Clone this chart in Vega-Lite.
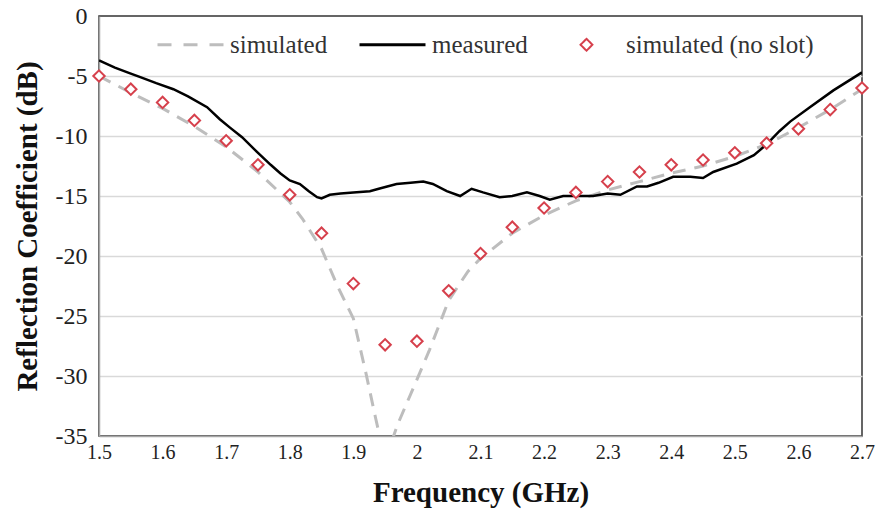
{
  "$schema": "https://vega.github.io/schema/vega-lite/v6.json",
  "width": 763,
  "height": 420,
  "autosize": {"type": "none"},
  "padding": {"left": 99, "top": 16, "right": 16, "bottom": 80},
  "background": "white",
  "config": {
    "font": "Liberation Serif, Times New Roman, serif",
    "view": {"stroke": "#333333", "strokeWidth": 1.5}
  },
  "datasets": {
    "lines": [
      {"freq": 1.5, "db": -5.0, "series": "simulated"},
      {"freq": 1.55, "db": -6.4, "series": "simulated"},
      {"freq": 1.6, "db": -7.7, "series": "simulated"},
      {"freq": 1.65, "db": -9.2, "series": "simulated"},
      {"freq": 1.7, "db": -10.9, "series": "simulated"},
      {"freq": 1.75, "db": -13.0, "series": "simulated"},
      {"freq": 1.8, "db": -15.5, "series": "simulated"},
      {"freq": 1.82, "db": -16.9, "series": "simulated"},
      {"freq": 1.85, "db": -19.4, "series": "simulated"},
      {"freq": 1.875, "db": -22.5, "series": "simulated"},
      {"freq": 1.9, "db": -25.2, "series": "simulated"},
      {"freq": 1.92, "db": -29.8, "series": "simulated"},
      {"freq": 1.935, "db": -33.5, "series": "simulated"},
      {"freq": 1.95, "db": -37.0, "series": "simulated"},
      {"freq": 1.97, "db": -34.0, "series": "simulated"},
      {"freq": 2.0, "db": -30.3, "series": "simulated"},
      {"freq": 2.02, "db": -27.8, "series": "simulated"},
      {"freq": 2.05, "db": -23.7, "series": "simulated"},
      {"freq": 2.08, "db": -21.3, "series": "simulated"},
      {"freq": 2.1, "db": -20.2, "series": "simulated"},
      {"freq": 2.15, "db": -18.1, "series": "simulated"},
      {"freq": 2.2, "db": -16.6, "series": "simulated"},
      {"freq": 2.25, "db": -15.4, "series": "simulated"},
      {"freq": 2.3, "db": -14.5, "series": "simulated"},
      {"freq": 2.35, "db": -13.8, "series": "simulated"},
      {"freq": 2.4, "db": -13.1, "series": "simulated"},
      {"freq": 2.45, "db": -12.5, "series": "simulated"},
      {"freq": 2.5, "db": -11.7, "series": "simulated"},
      {"freq": 2.55, "db": -10.7, "series": "simulated"},
      {"freq": 2.6, "db": -9.3, "series": "simulated"},
      {"freq": 2.65, "db": -7.8, "series": "simulated"},
      {"freq": 2.7, "db": -6.1, "series": "simulated"},
      {"freq": 1.5, "db": -3.7, "series": "measured"},
      {"freq": 1.525, "db": -4.3, "series": "measured"},
      {"freq": 1.55, "db": -4.8, "series": "measured"},
      {"freq": 1.565, "db": -5.1, "series": "measured"},
      {"freq": 1.59, "db": -5.6, "series": "measured"},
      {"freq": 1.617, "db": -6.1, "series": "measured"},
      {"freq": 1.64, "db": -6.7, "series": "measured"},
      {"freq": 1.67, "db": -7.6, "series": "measured"},
      {"freq": 1.69, "db": -8.6, "series": "measured"},
      {"freq": 1.706, "db": -9.3, "series": "measured"},
      {"freq": 1.725, "db": -10.1, "series": "measured"},
      {"freq": 1.748, "db": -11.3, "series": "measured"},
      {"freq": 1.77, "db": -12.4, "series": "measured"},
      {"freq": 1.785, "db": -13.1, "series": "measured"},
      {"freq": 1.8, "db": -13.7, "series": "measured"},
      {"freq": 1.816, "db": -14.0, "series": "measured"},
      {"freq": 1.83, "db": -14.6, "series": "measured"},
      {"freq": 1.843, "db": -15.1, "series": "measured"},
      {"freq": 1.85, "db": -15.2, "series": "measured"},
      {"freq": 1.863, "db": -14.9, "series": "measured"},
      {"freq": 1.88, "db": -14.8, "series": "measured"},
      {"freq": 1.9, "db": -14.7, "series": "measured"},
      {"freq": 1.926, "db": -14.6, "series": "measured"},
      {"freq": 1.94, "db": -14.4, "series": "measured"},
      {"freq": 1.968, "db": -14.0, "series": "measured"},
      {"freq": 1.99, "db": -13.9, "series": "measured"},
      {"freq": 2.01, "db": -13.8, "series": "measured"},
      {"freq": 2.025, "db": -14.0, "series": "measured"},
      {"freq": 2.047, "db": -14.6, "series": "measured"},
      {"freq": 2.068, "db": -15.0, "series": "measured"},
      {"freq": 2.086, "db": -14.4, "series": "measured"},
      {"freq": 2.104, "db": -14.7, "series": "measured"},
      {"freq": 2.13, "db": -15.1, "series": "measured"},
      {"freq": 2.15, "db": -15.0, "series": "measured"},
      {"freq": 2.173, "db": -14.7, "series": "measured"},
      {"freq": 2.193, "db": -15.0, "series": "measured"},
      {"freq": 2.209, "db": -15.3, "series": "measured"},
      {"freq": 2.23, "db": -15.0, "series": "measured"},
      {"freq": 2.25, "db": -15.0, "series": "measured"},
      {"freq": 2.277, "db": -15.0, "series": "measured"},
      {"freq": 2.3, "db": -14.8, "series": "measured"},
      {"freq": 2.32, "db": -14.9, "series": "measured"},
      {"freq": 2.346, "db": -14.2, "series": "measured"},
      {"freq": 2.362, "db": -14.2, "series": "measured"},
      {"freq": 2.38, "db": -13.9, "series": "measured"},
      {"freq": 2.403, "db": -13.4, "series": "measured"},
      {"freq": 2.43, "db": -13.4, "series": "measured"},
      {"freq": 2.45, "db": -13.5, "series": "measured"},
      {"freq": 2.466, "db": -13.0, "series": "measured"},
      {"freq": 2.503, "db": -12.3, "series": "measured"},
      {"freq": 2.53, "db": -11.6, "series": "measured"},
      {"freq": 2.55, "db": -10.7, "series": "measured"},
      {"freq": 2.57, "db": -9.6, "series": "measured"},
      {"freq": 2.587, "db": -8.8, "series": "measured"},
      {"freq": 2.618, "db": -7.6, "series": "measured"},
      {"freq": 2.655, "db": -6.2, "series": "measured"},
      {"freq": 2.7, "db": -4.7, "series": "measured"}
    ],
    "noslot": [
      {"freq": 1.5, "db": -5.0, "series": "simulated (no slot)"},
      {"freq": 1.55, "db": -6.1, "series": "simulated (no slot)"},
      {"freq": 1.6, "db": -7.2, "series": "simulated (no slot)"},
      {"freq": 1.65, "db": -8.7, "series": "simulated (no slot)"},
      {"freq": 1.7, "db": -10.4, "series": "simulated (no slot)"},
      {"freq": 1.75, "db": -12.4, "series": "simulated (no slot)"},
      {"freq": 1.8, "db": -14.9, "series": "simulated (no slot)"},
      {"freq": 1.85, "db": -18.1, "series": "simulated (no slot)"},
      {"freq": 1.9, "db": -22.3, "series": "simulated (no slot)"},
      {"freq": 1.95, "db": -27.4, "series": "simulated (no slot)"},
      {"freq": 2.0, "db": -27.1, "series": "simulated (no slot)"},
      {"freq": 2.05, "db": -22.9, "series": "simulated (no slot)"},
      {"freq": 2.1, "db": -19.8, "series": "simulated (no slot)"},
      {"freq": 2.15, "db": -17.6, "series": "simulated (no slot)"},
      {"freq": 2.2, "db": -16.0, "series": "simulated (no slot)"},
      {"freq": 2.25, "db": -14.7, "series": "simulated (no slot)"},
      {"freq": 2.3, "db": -13.8, "series": "simulated (no slot)"},
      {"freq": 2.35, "db": -13.0, "series": "simulated (no slot)"},
      {"freq": 2.4, "db": -12.4, "series": "simulated (no slot)"},
      {"freq": 2.45, "db": -12.0, "series": "simulated (no slot)"},
      {"freq": 2.5, "db": -11.4, "series": "simulated (no slot)"},
      {"freq": 2.55, "db": -10.6, "series": "simulated (no slot)"},
      {"freq": 2.6, "db": -9.4, "series": "simulated (no slot)"},
      {"freq": 2.65, "db": -7.8, "series": "simulated (no slot)"},
      {"freq": 2.7, "db": -6.0, "series": "simulated (no slot)"}
    ]
  },
  "encoding": {
    "x": {
      "field": "freq",
      "type": "quantitative",
      "scale": {"domain": [1.5, 2.7], "nice": false, "zero": false},
      "axis": {
        "title": "Frequency (GHz)",
        "titleFontSize": 29,
        "titleFontWeight": "bold",
        "titleColor": "#111111",
        "titlePadding": 16,
        "values": [1.5, 1.6, 1.7, 1.8, 1.9, 2.0, 2.1, 2.2, 2.3, 2.4, 2.5, 2.6, 2.7],
        "format": ".1~f",
        "labelFontSize": 20,
        "labelColor": "#222222",
        "labelPadding": 6,
        "labelFlush": false,
        "labelOverlap": false,
        "ticks": false,
        "grid": false,
        "domainColor": "#a6a6a6",
        "domainWidth": 1.5
      }
    },
    "y": {
      "field": "db",
      "type": "quantitative",
      "scale": {"domain": [-35, 0], "nice": false, "zero": false},
      "axis": {
        "title": "Reflection Coefficient (dB)",
        "titleFontSize": 29,
        "titleFontWeight": "bold",
        "titleColor": "#111111",
        "titlePadding": 13,
        "values": [-35, -30, -25, -20, -15, -10, -5, 0],
        "labelExpr": "'' + datum.value",
        "labelFontSize": 24,
        "labelColor": "#222222",
        "labelPadding": 12,
        "labelFlush": false,
        "labelOverlap": false,
        "ticks": false,
        "grid": true,
        "gridColor": {
          "condition": {"test": "datum.value === 0 || datum.value === -35", "value": "transparent"},
          "value": "#d9d9d9"
        },
        "gridWidth": 1.5,
        "domainColor": "#a6a6a6",
        "domainWidth": 1.5
      }
    },
    "color": {
      "field": "series",
      "type": "nominal",
      "scale": {
        "domain": ["simulated", "measured", "simulated (no slot)"],
        "range": ["#bdbdbd", "#000000", "#d6404c"]
      },
      "legend": {
        "orient": "none",
        "legendX": 58,
        "legendY": 16,
        "direction": "horizontal",
        "title": null,
        "padding": 0,
        "labelFontSize": 25,
        "labelColor": "#333333",
        "labelOffset": 27,
        "symbolOffset": 21,
        "labelLimit": 400,
        "columnPadding": 25,
        "symbolType": "stroke",
        "symbolSize": 4356,
        "symbolStrokeWidth": 3,
        "encode": {
          "symbols": {
            "update": {
              "shape": {"signal": "datum.value === 'simulated (no slot)' ? 'M-0.18,0L0,-0.18L0.18,0L0,0.18Z' : 'stroke'"},
              "strokeDash": {"signal": "datum.value === 'simulated' ? [14, 12] : [1, 0]"},
              "stroke": {"scale": "color", "field": "value"},
              "fill": {"signal": "datum.value === 'simulated (no slot)' ? 'white' : 'transparent'"},
              "strokeWidth": {"signal": "datum.value === 'simulated (no slot)' ? 2 : 3"},
              "opacity": {"value": 1}
            }
          }
        }
      }
    }
  },
  "layer": [
    {
      "data": {"name": "lines"},
      "transform": [{"filter": "datum.series === 'simulated'"}],
      "mark": {"type": "line", "strokeWidth": 3, "strokeDash": [13, 9], "clip": true}
    },
    {
      "data": {"name": "lines"},
      "transform": [{"filter": "datum.series === 'measured'"}],
      "mark": {"type": "line", "strokeWidth": 2.5, "clip": true}
    },
    {
      "data": {"name": "noslot"},
      "mark": {"type": "point", "shape": "diamond", "size": 130, "filled": false, "fill": "white", "fillOpacity": 1, "strokeWidth": 2, "opacity": 1}
    }
  ]
}
